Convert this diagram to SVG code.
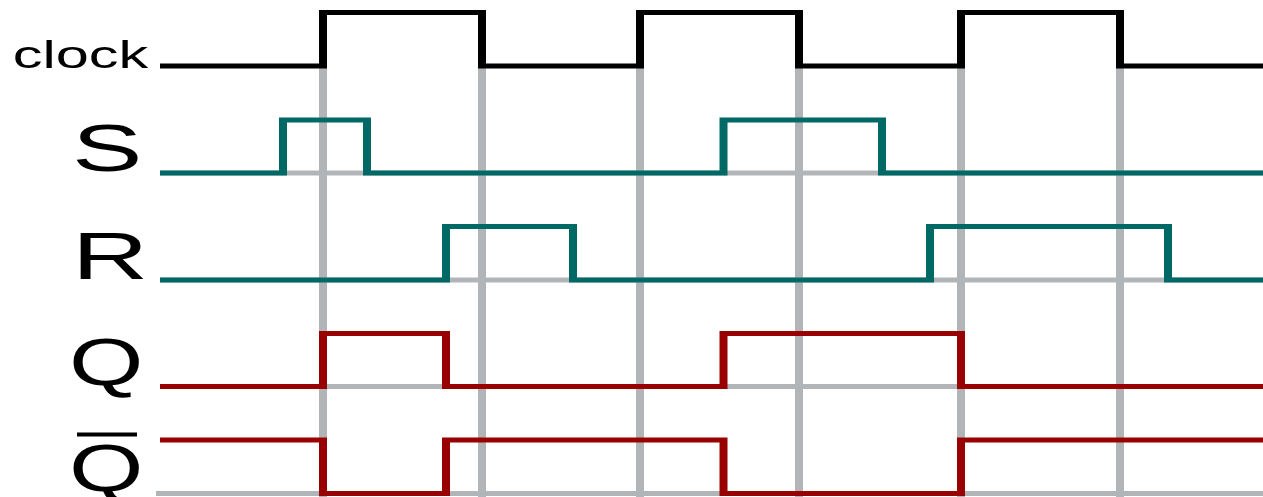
<svg xmlns="http://www.w3.org/2000/svg" width="1263" height="497" viewBox="0 0 1263 497">
  <style>
    .lbl { font-family: "Liberation Sans", Arial, Helvetica, sans-serif; fill: #000; }
    .wave { fill: none; stroke-width: 5; stroke-linejoin: miter; stroke-linecap: butt; }
    .grid { fill: none; stroke: #b1b5b8; stroke-width: 5; }
    .clk { stroke: #000; }
    .teal { stroke: #006865; }
    .red { stroke: #990000; }
  </style>
  <rect width="1263" height="497" fill="#fff"/>
  <g id="grid" transform="scale(1.6 1)">
    <path class="grid" d="M201.875,68 V497 M301.25,68 V497 M400,68 V497 M499.375,68 V497 M600.625,68 V497 M700,68 V497"/>
    <path class="grid" d="M100,173 H789.4 M100,280 H789.4 M100,386.5 H789.4 M97.5,493.5 H789.4"/>
  </g>
  <g id="clock">
    <text class="lbl" font-size="39.4" transform="matrix(1.51 0 0 1 12.7 67.5)">clock</text>
    <path class="wave clk" transform="scale(1.6 1)" d="M100,66 H201.875 V12.5 H301.25 V66 H400 V12.5 H499.375 V66 H600.625 V12.5 H700 V66 H789.4"/>
  </g>
  <g id="S">
    <text class="lbl" font-size="66" transform="matrix(1.6 0 0 1 72 171)">S</text>
    <path class="wave teal" transform="scale(1.6 1)" d="M100,173 H176.875 V120 H229.375 V173 H452.19 V120 H551.25 V173 H789.4"/>
  </g>
  <g id="R">
    <text class="lbl" font-size="66" transform="matrix(1.6 0 0 1 72 279)">R</text>
    <path class="wave teal" transform="scale(1.6 1)" d="M100,280 H278.75 V226.5 H358.125 V280 H581.25 V226.5 H730 V280 H789.4"/>
  </g>
  <g id="Q">
    <text class="lbl" font-size="66" transform="matrix(1.45 0 0 1 69 385)">Q</text>
    <path class="wave red" transform="scale(1.6 1)" d="M100,386.5 H201.875 V333.5 H278.75 V386.5 H452.19 V333.5 H600.625 V386.5 H789.4"/>
  </g>
  <g id="Qbar">
    <text class="lbl" font-size="66" transform="matrix(1.45 0 0 1 69 491)">Q</text>
    <rect x="77" y="432.5" width="60" height="4" fill="#000"/>
    <path class="wave red" transform="scale(1.6 1)" d="M100,440 H201.875 V493.5 H278.75 V440 H452.19 V493.5 H600.625 V440 H789.4"/>
  </g>
</svg>
